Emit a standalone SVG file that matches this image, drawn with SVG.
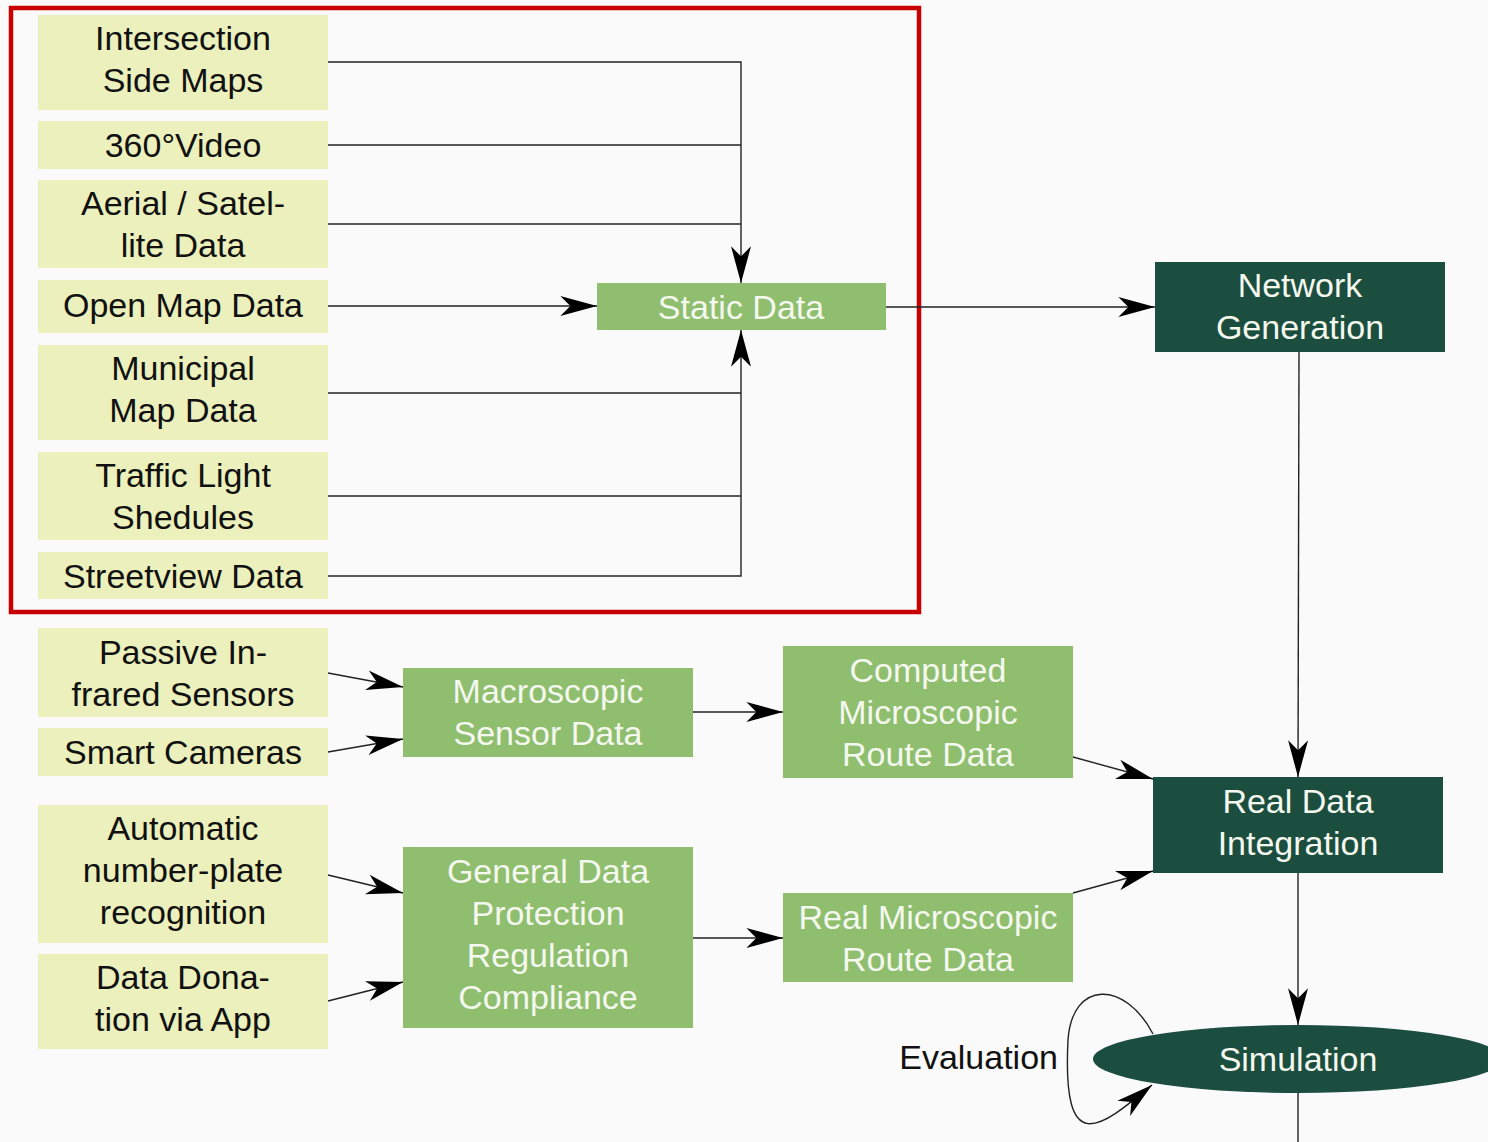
<svg xmlns="http://www.w3.org/2000/svg" width="1488" height="1142" viewBox="0 0 1488 1142">
<defs>
<style>
.src{fill:#ebf0bc}
.mid{fill:#8fbe6e}
.dark{fill:#1c4e3f}
text{font-family:"Liberation Sans",Arial,sans-serif;font-size:34px;text-anchor:middle}
.tb{fill:#111}
.tw{fill:#f4f8ee}
.edge{fill:none;stroke:#222;stroke-width:1.4}
</style>
<marker id="ah" markerUnits="userSpaceOnUse" markerWidth="40" markerHeight="30" viewBox="-34 -12 36 24" refX="0" refY="0" orient="auto">
<path d="M0,0 L-33,-9 L-24,0 L-33,9 Z" fill="#000"/>
</marker>
</defs>
<rect width="1488" height="1142" fill="#fafafa"/>
<rect x="11" y="8" width="908" height="604" fill="none" stroke="#c80000" stroke-width="4.5"/>

<g id="connectors">
<polyline class="edge" points="328,62 741,62 741,283" marker-end="url(#ah)"/>
<polyline class="edge" points="328,145 741,145"/>
<polyline class="edge" points="328,224 741,224"/>
<line class="edge" x1="328" y1="306" x2="597" y2="306" marker-end="url(#ah)"/>
<polyline class="edge" points="328,576 741,576 741,330" marker-end="url(#ah)"/>
<polyline class="edge" points="328,393 741,393"/>
<polyline class="edge" points="328,496 741,496"/>
<line class="edge" x1="886" y1="307" x2="1155" y2="307" marker-end="url(#ah)"/>
<line class="edge" x1="1299" y1="352" x2="1298" y2="777" marker-end="url(#ah)"/>
<line class="edge" x1="1298" y1="873" x2="1298" y2="1025" marker-end="url(#ah)"/>
<line class="edge" x1="1298" y1="1093" x2="1298" y2="1142"/>
<line class="edge" x1="328" y1="673" x2="403" y2="687" marker-end="url(#ah)"/>
<line class="edge" x1="328" y1="752" x2="403" y2="739" marker-end="url(#ah)"/>
<line class="edge" x1="693" y1="712" x2="783" y2="712" marker-end="url(#ah)"/>
<line class="edge" x1="1073" y1="757" x2="1153" y2="779" marker-end="url(#ah)"/>
<line class="edge" x1="328" y1="875" x2="403" y2="893" marker-end="url(#ah)"/>
<line class="edge" x1="328" y1="1001" x2="403" y2="982" marker-end="url(#ah)"/>
<line class="edge" x1="693" y1="938" x2="783" y2="938" marker-end="url(#ah)"/>
<line class="edge" x1="1073" y1="893" x2="1153" y2="871" marker-end="url(#ah)"/>
<path class="edge" d="M1153,1034 C1125,980 1072,980 1068,1040 C1062,1160 1100,1128 1152,1085" marker-end="url(#ah)"/>
</g>

<g id="n-intersection"><rect class="src" x="38" y="15" width="290" height="95"/><text class="tb" x="183" y="50">Intersection</text><text class="tb" x="183" y="92">Side Maps</text></g>
<g id="n-video"><rect class="src" x="38" y="121" width="290" height="48"/><text class="tb" x="183" y="157">360°Video</text></g>
<g id="n-aerial"><rect class="src" x="38" y="180" width="290" height="88"/><text class="tb" x="183" y="215">Aerial / Satel-</text><text class="tb" x="183" y="257">lite Data</text></g>
<g id="n-openmap"><rect class="src" x="38" y="280" width="290" height="53"/><text class="tb" x="183" y="317">Open Map Data</text></g>
<g id="n-municipal"><rect class="src" x="38" y="345" width="290" height="95"/><text class="tb" x="183" y="380">Municipal</text><text class="tb" x="183" y="422">Map Data</text></g>
<g id="n-traffic"><rect class="src" x="38" y="452" width="290" height="88"/><text class="tb" x="183" y="487">Traffic Light</text><text class="tb" x="183" y="529">Shedules</text></g>
<g id="n-streetview"><rect class="src" x="38" y="552" width="290" height="47"/><text class="tb" x="183" y="588">Streetview Data</text></g>
<g id="n-pir"><rect class="src" x="38" y="628" width="290" height="89"/><text class="tb" x="183" y="664">Passive In-</text><text class="tb" x="183" y="706">frared Sensors</text></g>
<g id="n-cameras"><rect class="src" x="38" y="728" width="290" height="48"/><text class="tb" x="183" y="764">Smart Cameras</text></g>
<g id="n-anpr"><rect class="src" x="38" y="805" width="290" height="138"/><text class="tb" x="183" y="840">Automatic</text><text class="tb" x="183" y="882">number-plate</text><text class="tb" x="183" y="924">recognition</text></g>
<g id="n-donation"><rect class="src" x="38" y="954" width="290" height="95"/><text class="tb" x="183" y="989">Data Dona-</text><text class="tb" x="183" y="1031">tion via App</text></g>

<g id="n-static"><rect class="mid" x="597" y="283" width="289" height="47"/><text class="tw" x="741" y="319">Static Data</text></g>
<g id="n-macro"><rect class="mid" x="403" y="668" width="290" height="89"/><text class="tw" x="548" y="703">Macroscopic</text><text class="tw" x="548" y="745">Sensor Data</text></g>
<g id="n-computed"><rect class="mid" x="783" y="646" width="290" height="132"/><text class="tw" x="928" y="682">Computed</text><text class="tw" x="928" y="724">Microscopic</text><text class="tw" x="928" y="766">Route Data</text></g>
<g id="n-gdpr"><rect class="mid" x="403" y="847" width="290" height="181"/><text class="tw" x="548" y="883">General Data</text><text class="tw" x="548" y="925">Protection</text><text class="tw" x="548" y="967">Regulation</text><text class="tw" x="548" y="1009">Compliance</text></g>
<g id="n-realmicro"><rect class="mid" x="783" y="893" width="290" height="89"/><text class="tw" x="928" y="929">Real Microscopic</text><text class="tw" x="928" y="971">Route Data</text></g>

<g id="n-network"><rect class="dark" x="1155" y="262" width="290" height="90"/><text class="tw" x="1300" y="297">Network</text><text class="tw" x="1300" y="339">Generation</text></g>
<g id="n-rdi"><rect class="dark" x="1153" y="777" width="290" height="96"/><text class="tw" x="1298" y="813">Real Data</text><text class="tw" x="1298" y="855">Integration</text></g>
<g id="n-sim"><ellipse class="dark" cx="1298" cy="1059" rx="205" ry="34"/><text class="tw" x="1298" y="1071">Simulation</text></g>
<text class="tb" x="1058" y="1069" style="text-anchor:end">Evaluation</text>
</svg>
